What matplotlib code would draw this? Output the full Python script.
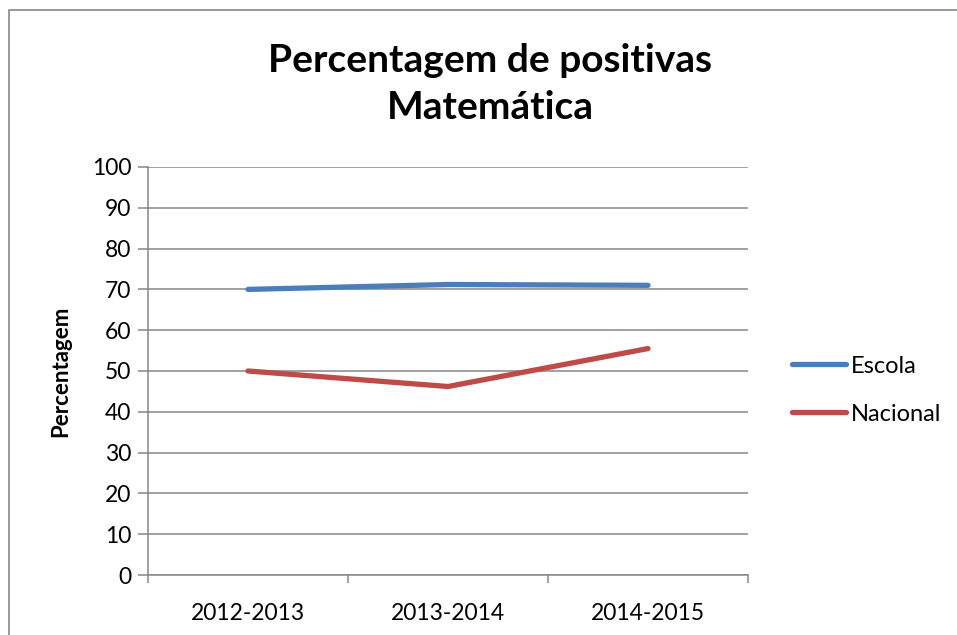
import numpy as np
import matplotlib.pyplot as plt
from matplotlib.patches import Rectangle

plt.rcParams['font.family'] = ['Lato', 'DejaVu Sans']

years = ["2012-2013", "2013-2014", "2014-2015"]
escola = [70.0, 71.2, 71.0]
nacional = [50.0, 46.2, 55.5]

blue = "#4A7EBB"
red = "#BE4B48"
grid_col = "#868686"

fig = plt.figure(figsize=(9.57, 6.35), dpi=100)
# chart area frame
fig.patches.append(Rectangle((9 / 957, -0.01), 1.0, 1 - 10 / 635 + 0.01,
                             transform=fig.transFigure, fill=False,
                             edgecolor=grid_col, linewidth=1.2))

ax = fig.add_axes([148 / 957, 1 - 575 / 635, 600 / 957, 408 / 635])
x = np.arange(len(years))
ax.plot(x, escola, color=blue, linewidth=3.8, solid_capstyle='round', label="Escola")
ax.plot(x, nacional, color=red, linewidth=3.8, solid_capstyle='round', label="Nacional")

ax.set_xlim(-0.5, len(years) - 0.5)
ax.set_ylim(0, 100)
ax.set_yticks(np.arange(0, 101, 10))
ax.yaxis.grid(True, color=grid_col, linewidth=1.1)
ax.set_axisbelow(True)

ax.set_xticks(x)
ax.set_xticklabels(years)
ax.set_xticks(np.arange(-0.5, len(years), 1.0), minor=True)
ax.tick_params(axis='x', which='major', length=0, pad=20, labelsize=16.5)
ax.tick_params(axis='x', which='minor', length=6, color=grid_col, width=1.1)
ax.tick_params(axis='y', length=7, color=grid_col, width=1.1, labelsize=16.5, pad=5)

for s in ['top', 'right']:
    ax.spines[s].set_visible(False)
for s in ['left', 'bottom']:
    ax.spines[s].set_color(grid_col)
    ax.spines[s].set_linewidth(1.1)

ax.set_ylabel("Percentagem", fontsize=16, fontweight='bold', labelpad=15)

fig.text(490 / 957, 1 - 84 / 635, "Percentagem de positivas\nMatemática",
         ha='center', va='center', fontsize=28, fontweight='bold', linespacing=1.4)

ax.legend(loc='center left', bbox_to_anchor=(1.038, 0.453), frameon=False,
          fontsize=17, handlelength=2.3, handletextpad=0.2, labelspacing=1.15)

fig.savefig("out.png", dpi=100)
